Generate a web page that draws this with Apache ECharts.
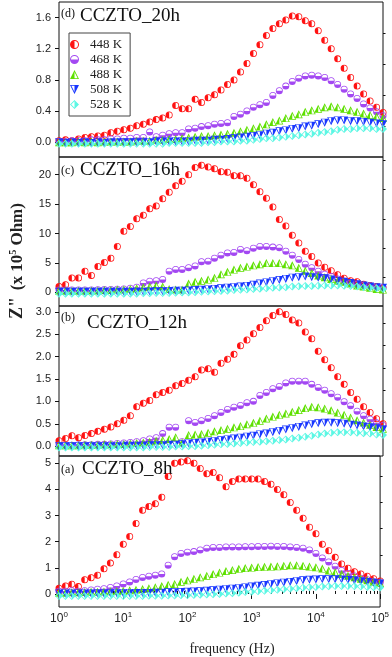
<!DOCTYPE html>
<html>
<head>
<meta charset="utf-8">
<script src="https://cdn.jsdelivr.net/npm/echarts@6/dist/echarts.min.js"></script>
<style>
  html, body { margin: 0; padding: 0; background: #fff; }
  #chart { width: 392px; height: 657px; }
</style>
</head>
<body>
<div id="chart"></div>
<script>
// frequency grid (Hz), 10 points per decade
const frequency = [1, 1.26, 1.58, 2.0, 2.51, 3.16, 3.98, 5.01, 6.31, 7.94,
  10, 12.6, 15.8, 20, 25.1, 31.6, 39.8, 50.1, 63.1, 79.4,
  100, 126, 158, 200, 251, 316, 398, 501, 631, 794,
  1000, 1259, 1585, 1995, 2512, 3162, 3981, 5012, 6310, 7943,
  10000, 12589, 15849, 19953, 25119, 31623, 39811, 50119, 63096, 79433, 100000];

const temperatures = ["448 K", "468 K", "488 K", "508 K", "528 K"];
const xTickLabels = [1, 10, 100, 1000, 10000, 100000];

// (d) CCZTO_20h
const h20_448 = [0.02,0.03,0.02,0.04,0.06,0.07,0.08,0.09,0.12,0.14, 0.16,0.18,0.21,0.23,0.26,0.29,0.31,0.35,0.47,0.43, 0.43,0.55,0.51,0.57,0.61,0.67,0.74,0.80,0.90,1.01, 1.14,1.25,1.37,1.46,1.52,1.57,1.62,1.61,1.56,1.52, 1.43,1.31,1.20,1.07,0.95,0.83,0.72,0.62,0.53,0.45,0.38];
const h20_468 = [0.01,0.01,0.02,0.02,0.02,0.03,0.03,0.03,0.04,0.04, 0.05,0.05,0.06,0.06,0.13,0.07,0.09,0.11,0.12,0.12, 0.17,0.18,0.20,0.21,0.23,0.24,0.25,0.33,0.36,0.40, 0.45,0.48,0.51,0.60,0.66,0.72,0.78,0.82,0.85,0.86, 0.85,0.83,0.79,0.74,0.68,0.62,0.56,0.49,0.44,0.39,0.34];
const h20_488 = [0.00,0.00,0.00,0.01,0.00,0.01,0.00,0.01,0.01,0.01, 0.01,0.01,0.02,0.02,0.02,0.03,0.03,0.04,0.04,0.05, 0.06,0.07,0.08,0.08,0.09,0.10,0.11,0.12,0.14,0.16, 0.18,0.20,0.23,0.26,0.28,0.31,0.34,0.36,0.39,0.41, 0.43,0.45,0.46,0.45,0.43,0.41,0.39,0.37,0.35,0.33,0.31];
const h20_508 = [0.00,-0.01,0.00,-0.01,0.00,-0.01,0.00,-0.01,0.00,0.00, 0.00,0.00,0.00,0.00,0.00,0.01,0.01,0.01,0.01,0.01, 0.01,0.02,0.02,0.02,0.03,0.03,0.04,0.05,0.06,0.07, 0.08,0.09,0.11,0.12,0.14,0.15,0.17,0.18,0.20,0.21, 0.23,0.25,0.27,0.28,0.28,0.27,0.27,0.26,0.25,0.24,0.23];
const h20_528 = [-0.02,-0.02,-0.02,-0.02,-0.02,-0.02,-0.02,-0.02,-0.02,-0.02, -0.02,-0.02,-0.02,-0.02,-0.02,-0.02,-0.02,-0.01,-0.01,-0.01, -0.01,-0.01,-0.01,0.00,0.00,0.01,0.01,0.01,0.02,0.02, 0.03,0.04,0.05,0.05,0.06,0.07,0.08,0.09,0.10,0.11, 0.12,0.13,0.14,0.16,0.17,0.17,0.18,0.18,0.18,0.17,0.17];

// (c) CCZTO_16h
const h16_448 = [1.0,1.3,2.45,2.45,3.6,2.9,4.4,5.1,5.8,7.8, 10.4,11.2,12.5,13.1,14.2,14.7,15.9,17.0,18.1,18.9, 20.0,21.2,21.6,21.3,21.0,20.5,20.4,19.8,19.8,19.4, 18.3,17.1,16.0,14.5,12.4,11.3,9.7,8.4,7.0,6.1, 5.0,4.3,3.7,3.0,2.4,2.0,1.8,1.4,1.2,1.0,0.8];
const h16_468 = [0.4,0.4,0.4,0.4,0.4,0.4,0.45,0.5,0.5,0.55, 0.6,0.7,0.9,1.6,1.9,2.0,2.2,3.6,3.9,3.9, 4.2,4.5,5.2,5.3,5.8,6.3,6.7,6.8,7.3,7.1, 7.5,7.8,7.8,7.7,7.6,7.0,6.3,5.6,4.8,4.2, 3.6,3.1,2.7,2.3,1.9,1.6,1.4,1.2,1.0,0.9,0.8];
const h16_488 = [0.3,0.3,0.3,0.3,0.3,0.35,0.35,0.4,0.4,0.5, 0.5,0.6,0.7,0.9,1.0,1.2,1.0,0.6,0.5,0.5, 1.5,1.8,2.0,2.2,2.5,3.1,3.5,3.9,4.2,4.4, 4.6,4.8,5.0,5.0,5.0,4.8,4.6,4.2,3.7,3.3, 2.9,2.6,2.3,2.0,1.8,1.5,1.2,1.0,0.8,0.6,0.5];
const h16_508 = [0.1,0.1,0.1,0.1,0.1,0.1,0.1,0.1,0.1,0.1, 0.1,0.1,0.1,0.1,0.15,0.2,0.2,0.25,0.3,0.3, 0.35,0.4,0.45,0.5,0.6,0.7,0.8,0.9,1.0,1.1, 1.3,1.5,1.7,1.9,2.1,2.3,2.5,2.6,2.7,2.6, 2.5,2.4,2.2,2.0,1.8,1.6,1.4,1.2,1.0,0.9,0.8];
const h16_528 = [-0.2,-0.2,-0.2,-0.2,-0.2,-0.2,-0.2,-0.2,-0.2,-0.2, -0.2,-0.2,-0.2,-0.15,-0.15,-0.1,-0.1,-0.1,-0.05,0.0, 0.0,0.05,0.1,0.15,0.2,0.25,0.3,0.4,0.45,0.5, 0.6,0.65,0.7,0.8,0.85,0.9,1.0,1.05,1.1,1.1, 1.15,1.2,1.2,1.2,1.15,1.1,1.0,0.9,0.8,0.7,0.6];

// (b) CCZTO_12h
const h12_448 = [0.12,0.17,0.23,0.19,0.24,0.28,0.33,0.38,0.43,0.50, 0.58,0.68,0.88,0.96,1.02,1.15,1.20,1.25,1.35,1.40, 1.47,1.55,1.70,1.73,1.65,1.85,1.94,2.05,2.24,2.37, 2.51,2.65,2.80,2.92,3.00,2.94,2.82,2.75,2.55,2.40, 2.12,1.93,1.75,1.55,1.38,1.20,1.05,0.88,0.75,0.61,0.50];
const h12_468 = [0.02,0.02,0.02,0.03,0.03,0.03,0.04,0.04,0.05,0.06, 0.07,0.08,0.10,0.12,0.16,0.19,0.28,0.42,0.42,0.10, 0.57,0.53,0.57,0.62,0.68,0.75,0.82,0.87,0.91,0.97, 1.00,1.13,1.20,1.28,1.33,1.41,1.45,1.45,1.45,1.38, 1.31,1.25,1.17,1.09,0.99,0.90,0.78,0.68,0.60,0.52,0.46];
const h12_488 = [0.02,0.02,0.02,0.02,0.03,0.03,0.03,0.04,0.04,0.05, 0.05,0.06,0.07,0.08,0.10,0.12,0.14,0.16,0.20,0.08, 0.25,0.26,0.27,0.30,0.33,0.36,0.39,0.42,0.45,0.49, 0.52,0.57,0.62,0.66,0.70,0.73,0.77,0.81,0.85,0.88, 0.87,0.84,0.80,0.75,0.70,0.64,0.58,0.53,0.48,0.43,0.39];
const h12_508 = [0.00,0.00,0.00,0.00,0.00,0.00,0.00,0.00,0.00,0.00, 0.01,0.01,0.01,0.01,0.02,0.02,0.02,0.03,0.03,0.04, 0.06,0.07,0.08,0.10,0.11,0.13,0.15,0.17,0.19,0.21, 0.23,0.26,0.28,0.31,0.34,0.37,0.40,0.43,0.46,0.49, 0.51,0.52,0.52,0.51,0.50,0.48,0.46,0.44,0.42,0.40,0.37];
const h12_528 = [-0.03,-0.03,-0.03,-0.03,-0.03,-0.03,-0.03,-0.03,-0.03,-0.03, -0.03,-0.03,-0.03,-0.03,-0.02,-0.02,-0.02,-0.02,-0.01,-0.01, 0.00,0.00,0.01,0.02,0.03,0.04,0.05,0.06,0.07,0.08, 0.09,0.10,0.11,0.12,0.14,0.15,0.17,0.19,0.21,0.23, 0.26,0.28,0.30,0.31,0.31,0.31,0.30,0.29,0.28,0.26,0.25];

// (a) CCZTO_8h
const h8_448 = [0.22,0.30,0.37,0.28,0.54,0.62,0.72,0.96,1.18,1.50, 1.90,2.20,2.70,3.20,3.35,3.45,3.70,4.50,5.00,5.05, 5.10,5.00,4.80,4.60,4.65,4.45,4.10,4.30,4.40,4.40, 4.40,4.40,4.30,4.20,4.00,3.80,3.50,3.20,2.90,2.55, 2.30,1.90,1.65,1.40,1.15,0.98,0.85,0.76,0.68,0.58,0.50];
const h8_468 = [0.10,0.10,0.12,0.10,0.12,0.15,0.18,0.20,0.25,0.30, 0.38,0.46,0.55,0.63,0.68,0.72,0.76,1.10,1.42,1.55, 1.60,1.62,1.68,1.75,1.78,1.78,1.80,1.80,1.80,1.81, 1.81,1.82,1.82,1.83,1.82,1.82,1.80,1.78,1.75,1.68, 1.55,1.38,1.22,1.06,0.90,0.78,0.69,0.60,0.54,0.48,0.43];
const h8_488 = [0.05,0.05,0.06,0.06,0.07,0.08,0.08,0.09,0.10,0.11, 0.12,0.14,0.16,0.19,0.22,0.26,0.30,0.35,0.38,0.47, 0.52,0.58,0.64,0.70,0.76,0.82,0.88,0.92,0.96,0.99, 1.01,1.03,1.04,1.05,1.06,1.08,1.10,1.10,1.08,1.05, 1.02,0.97,0.90,0.83,0.76,0.70,0.64,0.58,0.52,0.47,0.42];
const h8_508 = [0.02,0.02,0.02,0.02,0.02,0.02,0.02,0.02,0.03,0.03, 0.03,0.03,0.04,0.04,0.04,0.05,0.05,0.06,0.06,0.07, 0.08,0.09,0.10,0.12,0.14,0.16,0.18,0.20,0.22,0.25, 0.28,0.31,0.34,0.37,0.40,0.43,0.46,0.49,0.52,0.54, 0.55,0.56,0.56,0.56,0.55,0.53,0.51,0.49,0.46,0.43,0.40];
const h8_528 = [-0.08,-0.08,-0.08,-0.08,-0.08,-0.08,-0.08,-0.08,-0.08,-0.08, -0.08,-0.08,-0.08,-0.08,-0.07,-0.07,-0.07,-0.06,-0.06,-0.05, -0.05,-0.04,-0.03,-0.02,-0.01,0.00,0.02,0.03,0.05,0.07, 0.08,0.10,0.12,0.14,0.16,0.18,0.20,0.22,0.24,0.26, 0.27,0.28,0.29,0.30,0.30,0.30,0.29,0.28,0.27,0.26,0.25];

// y ticks per panel
const ticks20h = [0, 0.4, 0.8, 1.2, 1.6];
const ticks16h = [0, 5, 10, 15, 20];
const ticks12h = [0, 0.5, 1.0, 1.5, 2.0, 2.5, 3.0];
const ticks8h = [0, 1, 2, 3, 4, 5];
const minor20h = [0.2, 0.6, 1.0, 1.4];
const minor16h = [2.5, 7.5, 12.5, 17.5, 22.5];
const minor12h = [0.25, 0.75, 1.25, 1.75, 2.25, 2.75];
const minor8h = [0.5, 1.5, 2.5, 3.5, 4.5];

const panels = [
  { tag: "(d)", title: "CCZTO_20h", data: [h20_448, h20_468, h20_488, h20_508, h20_528], ticks: ticks20h, minor: minor20h, range: [-0.19, 1.8], digits: 1 },
  { tag: "(c)", title: "CCZTO_16h", data: [h16_448, h16_468, h16_488, h16_508, h16_528], ticks: ticks16h, minor: minor16h, range: [-2.3, 23], digits: 0 },
  { tag: "(b)", title: "CCZTO_12h", data: [h12_448, h12_468, h12_488, h12_508, h12_528], ticks: ticks12h, minor: minor12h, range: [-0.22, 3.13], digits: 1 },
  { tag: "(a)", title: "CCZTO_8h", data: [h8_448, h8_468, h8_488, h8_508, h8_528], ticks: ticks8h, minor: minor8h, range: [-0.5, 5.28], digits: 0 }
];

// layout
const boxes = [[2, 155], [157, 149], [306, 150], [456, 151]];
const titlePos = [[61, 14, 80, 17], [61, 171, 80, 171], [61, 318, 87, 324], [61, 470, 82, 470]];

// half-filled marker shapes
const colors = ["#ff1212", "#a348f2", "#5ee000", "#1836ff", "#5cf7e4"];
const symbols = [
  "path://M10 0A10 10 0 0 1 10 20A10 10 0 0 1 10 0Z M10 2.2A7.8 7.8 0 0 0 10 17.8A7.8 7.8 0 0 0 10 2.2Z M10 20A10 10 0 0 1 10 0Z",
  "path://M10 0A10 10 0 0 1 10 20A10 10 0 0 1 10 0Z M10 2.2A7.8 7.8 0 0 0 10 17.8A7.8 7.8 0 0 0 10 2.2Z M20 10A10 10 0 0 1 0 10Z",
  "path://M10 0L20 20L0 20Z M10 4.5L3 18.5L17 18.5Z M10 0L10 20L0 20Z",
  "path://M0 0L20 0L10 20Z M3 1.5L10 15.5L17 1.5Z M10 0L20 0L10 20Z",
  "path://M10 0L20 10L10 20L0 10Z M10 2.8L2.8 10L10 17.2L17.2 10Z M10 0L20 10L10 20Z"
];
const sizes = [7, 7, 8, 8, 8];

const minorX = [];
for (let d = 1; d < 100000; d *= 10) {
  for (let m = 2; m <= 9; m++) minorX.push(m * d);
}

const grid = [], xAxis = [], yAxis = [], series = [], graphic = [];

panels.forEach((p, k) => {
  const isBottom = k === panels.length - 1;
  grid.push({
    left: 59, width: 324, top: boxes[k][0], height: boxes[k][1],
    show: true, borderColor: "#111", borderWidth: 1, backgroundColor: "transparent"
  });
  xAxis.push({
    type: "log", logBase: 10, min: 1, max: 100000, gridIndex: k,
    axisLine: { show: false }, splitLine: { show: false },
    axisTick: { show: isBottom, inside: false, length: 5, customValues: xTickLabels, lineStyle: { color: "#111" } },
    axisLabel: {
      show: isBottom, margin: 4, customValues: xTickLabels,
      formatter: v => "{b|10}{s|" + Math.round(Math.log10(v)) + "}",
      rich: {
        b: { fontSize: 12, color: "#222", fontFamily: "Liberation Sans, Arial", verticalAlign: "bottom" },
        s: { fontSize: 8, color: "#222", fontFamily: "Liberation Sans, Arial", verticalAlign: "bottom", padding: [0, 0, 6, 0] }
      }
    }
  });
  xAxis.push({
    type: "log", logBase: 10, min: 1, max: 100000, gridIndex: k,
    axisLine: { show: false }, splitLine: { show: false },
    axisTick: { show: isBottom, inside: false, length: 3, customValues: minorX, lineStyle: { color: "#111" } },
    axisLabel: { show: false }
  });
  yAxis.push({
    type: "value", min: p.range[0], max: p.range[1], gridIndex: k,
    axisLine: { show: false }, splitLine: { show: false },
    axisTick: { show: true, inside: false, length: 4, customValues: p.ticks, lineStyle: { color: "#111" } },
    axisLabel: {
      margin: 8, customValues: p.ticks, color: "#222", fontSize: 11,
      fontFamily: "Liberation Sans, Arial",
      formatter: v => v.toFixed(p.digits)
    }
  });
  yAxis.push({
    type: "value", min: p.range[0], max: p.range[1], gridIndex: k,
    axisLine: { show: false }, splitLine: { show: false },
    axisTick: { show: true, inside: false, length: 2.5, customValues: p.minor, lineStyle: { color: "#111" } },
    axisLabel: { show: false }
  });

  p.data.forEach((vals, j) => {
    series.push({
      type: "scatter", name: temperatures[j],
      xAxisIndex: 2 * k, yAxisIndex: 2 * k,
      data: frequency.map((f, i) => [f, vals[i]]),
      symbol: symbols[j], symbolSize: sizes[j],
      itemStyle: { color: colors[j], opacity: 1 },
      silent: true, animation: false
    });
  });

  const tp = titlePos[k];
  graphic.push({
    type: "text", left: tp[0], top: tp[1] - 6,
    style: { text: p.tag, font: "12px 'Liberation Serif', serif", fill: "#111" }
  });
  graphic.push({
    type: "text", left: tp[2], top: tp[3] - 10,
    style: { text: p.title, font: "19px 'Liberation Serif', serif", fill: "#111" }
  });
});

graphic.push({
  type: "text", x: 232, y: 649,
  style: { text: "frequency (Hz)", font: "14px 'Liberation Serif', serif", fill: "#222", align: "center", verticalAlign: "middle" }
});
graphic.push({
  type: "text", x: 17, y: 261, rotation: Math.PI / 2,
  style: {
    text: "{z|Z\"}  {p|(x 10}{s|5}{p| Ohm)}",
    align: "center", verticalAlign: "middle",
    rich: {
      z: { font: "bold 18px 'Liberation Serif', serif", fill: "#222", verticalAlign: "bottom" },
      p: { font: "bold 17px 'Liberation Serif', serif", fill: "#222", verticalAlign: "bottom" },
      s: { font: "bold 10px 'Liberation Serif', serif", fill: "#222", verticalAlign: "bottom", padding: [0, 0, 8, 0] }
    }
  }
});

const chart = echarts.init(document.getElementById("chart"));
chart.setOption({
  animation: false,
  backgroundColor: "#fff",
  grid, xAxis, yAxis, series, graphic,
  legend: {
    orient: "vertical", left: 69, top: 33,
    data: temperatures.map((t, j) => ({ name: t, icon: symbols[j] })),
    itemWidth: 21, itemHeight: 9, itemGap: 2,
    padding: [5, 8, 5, 1],
    borderColor: "#444", borderWidth: 1, backgroundColor: "#fff",
    selectedMode: false,
    textStyle: { fontFamily: "Liberation Serif, serif", fontSize: 13, color: "#222", lineHeight: 13 }
  }
});
</script>
</body>
</html>
